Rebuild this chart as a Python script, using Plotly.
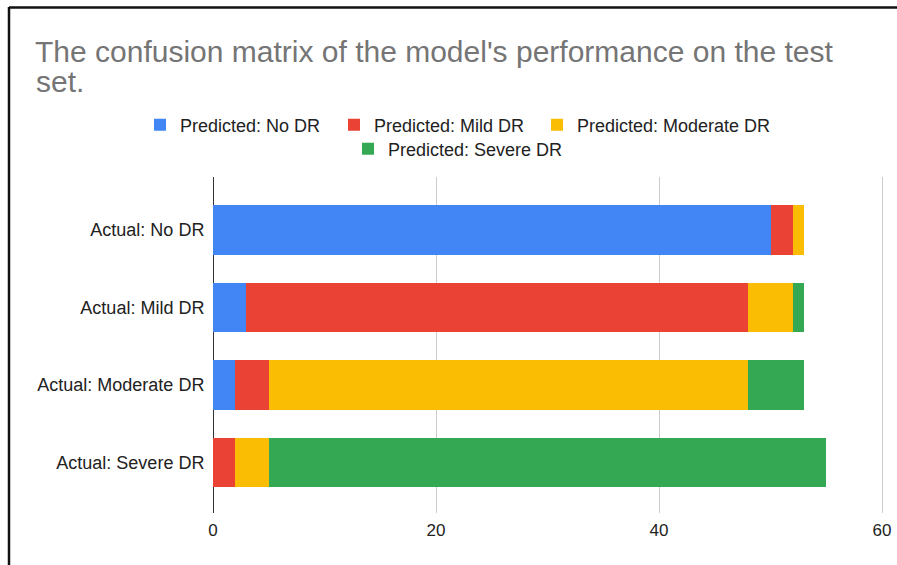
import plotly.graph_objects as go

categories = ["Actual: No DR", "Actual: Mild DR", "Actual: Moderate DR", "Actual: Severe DR"]
pred_no_dr = [50, 3, 2, 0]
pred_mild_dr = [2, 45, 3, 2]
pred_moderate_dr = [1, 4, 43, 3]
pred_severe_dr = [0, 1, 5, 50]
series_names = ["Predicted: No DR", "Predicted: Mild DR", "Predicted: Moderate DR", "Predicted: Severe DR"]
series_values = [pred_no_dr, pred_mild_dr, pred_moderate_dr, pred_severe_dr]
colors = ["#4285F4", "#EA4335", "#FBBC04", "#34A853"]
x_ticks = [0, 20, 40, 60]
title_line1 = "The confusion matrix of the model's performance on the test"
title_line2 = "set."

W, H = 897, 565
L, R, T, B = 213, 13, 177, 52
pw = W - L - R
ph = H - T - B
x_max = 60 * pw / 669.0  # 60 lands at x=882 px, leaving room for its gridline

def px_x(p):
    return (p - L) / pw

def px_y(p):
    return (H - B - p) / ph

FONT = "Arial, Liberation Sans, Helvetica, sans-serif"

# legend placement (pixel positions of each entry: left, vertical centre)
legend_pos = [(140, 125), (334, 125), (537, 125), (348, 149)]
legend_keys = ["legend", "legend2", "legend3", "legend4"]

fig = go.Figure()
for i, (name, vals, c) in enumerate(zip(series_names, series_values, colors)):
    fig.add_trace(go.Bar(
        y=categories, x=vals, name=name, orientation="h",
        marker=dict(color=c, line=dict(width=0)),
        legend=legend_keys[i],
    ))

legends = {}
for key, (lx, ly) in zip(legend_keys, legend_pos):
    legends[key] = dict(orientation="h", x=px_x(lx), xanchor="left", y=px_y(ly), yanchor="middle",
                        font=dict(size=18, color="#222222"), bgcolor="rgba(0,0,0,0)")

fig.update_layout(
    width=W, height=H,
    margin=dict(l=L, r=R, t=T, b=B, pad=0, autoexpand=False),
    paper_bgcolor="white", plot_bgcolor="white",
    barmode="stack", bargap=0.36,
    font=dict(family=FONT, color="#222222"),
    title=dict(text=title_line1, x=35 / W, xref="container", xanchor="left",
               y=1 - 41 / H, yref="container", yanchor="top",
               font=dict(size=30, color="#757575", family=FONT)),
    xaxis=dict(range=[0, x_max], tickvals=x_ticks, showgrid=True, gridcolor="#cccccc", gridwidth=1,
               zeroline=True, zerolinecolor="#333333", zerolinewidth=1,
               ticks="outside", ticklen=2, tickcolor="rgba(0,0,0,0)", automargin=False,
               tickfont=dict(size=17, color="#222222"), showline=False, fixedrange=True),
    yaxis=dict(categoryorder="array", categoryarray=categories,
               range=[3 + (513 - 462.5) / 77.5, -(230 - 177) / 77.5], automargin=False,
               tickfont=dict(size=18, color="#222222"), showgrid=False, showline=False,
               ticks="outside", ticklen=4, tickcolor="rgba(0,0,0,0)", fixedrange=True),
    showlegend=True,
    **legends,
)

fig.add_annotation(text=title_line2, xref="paper", yref="paper", x=px_x(35), y=px_y(99),
                   xanchor="left", yanchor="bottom", showarrow=False,
                   font=dict(size=30, color="#757575", family=FONT), borderpad=0)

# screenshot frame border
fig.add_shape(type="line", xref="paper", yref="paper", x0=px_x(9), x1=px_x(900), y0=px_y(7.5), y1=px_y(7.5),
              line=dict(color="#111111", width=2.5))
fig.add_shape(type="line", xref="paper", yref="paper", x0=px_x(9), x1=px_x(9), y0=px_y(7), y1=px_y(570),
              line=dict(color="#111111", width=2.5))

fig.write_html("out.html", config={"displayModeBar": False},
               post_script="document.body.style.margin='0';document.body.style.padding='0';")
